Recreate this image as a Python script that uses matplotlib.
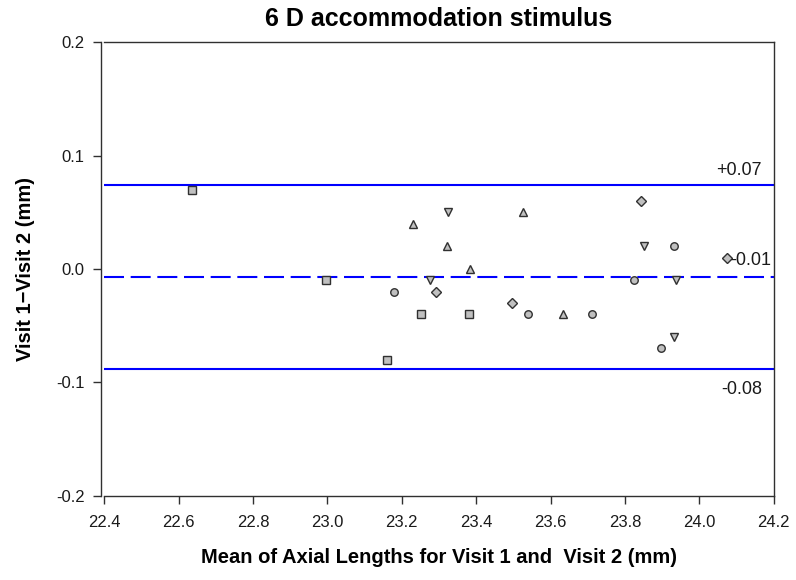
import matplotlib
matplotlib.use("Agg")
import matplotlib.pyplot as plt

# Mean axial length (mm) and Visit 1 - Visit 2 difference (mm), grouped by marker symbol
sq_x = [22.635, 22.995, 23.161, 23.251, 23.380]
sq_y = [0.07, -0.01, -0.08, -0.04, -0.04]

ci_x = [23.179, 23.540, 23.711, 23.825, 23.896, 23.931]
ci_y = [-0.02, -0.04, -0.04, -0.01, -0.07, 0.02]

tu_x = [23.231, 23.322, 23.383, 23.527, 23.633]
tu_y = [0.04, 0.02, 0.00, 0.05, -0.04]

td_x = [23.276, 23.325, 23.852, 23.933, 23.937]
td_y = [-0.01, 0.05, 0.02, -0.06, -0.01]

di_x = [23.292, 23.497, 23.842, 24.075]
di_y = [-0.02, -0.03, 0.06, 0.01]

# Bias and limits of agreement
bias = -0.007
loa_upper = 0.074
loa_lower = -0.088
line_labels = ["+0.07", "-0.01", "-0.08"]

x_ticks = [22.4, 22.6, 22.8, 23.0, 23.2, 23.4, 23.6, 23.8, 24.0, 24.2]
y_ticks = [-0.2, -0.1, 0.0, 0.1, 0.2]

plt.rcParams["font.family"] = ["Liberation Sans", "DejaVu Sans"]

fig = plt.figure(figsize=(7.96, 5.80), dpi=100)
ax = fig.add_axes([104.3 / 796, 1 - 495.5 / 580, (773.7 - 104.3) / 796, (495.5 - 42.3) / 580])

ax.set_xlim(22.4, 24.2)
ax.set_ylim(-0.2, 0.2)

blue = "#0000ff"
ax.axhline(loa_upper, color=blue, lw=1.5, zorder=1)
ax.axhline(loa_lower, color=blue, lw=1.5, zorder=1)
ax.axhline(bias, color=blue, lw=1.5, linestyle=(0, (9.6, 3.2)), zorder=1)

mk = dict(linestyle="none", markerfacecolor="#c0c0c0", markeredgecolor="#303030",
          markeredgewidth=1.0, zorder=3)
ax.plot(sq_x, sq_y, marker="s", markersize=5.4, **mk)
ax.plot(ci_x, ci_y, marker="o", markersize=5.4, **mk)
ax.plot(tu_x, tu_y, marker="^", markersize=6.2, **mk)
ax.plot(td_x, td_y, marker="v", markersize=6.2, **mk)
ax.plot(di_x, di_y, marker="D", markersize=5.2, **mk)

lab_kw = dict(fontsize=13, color="#1a1a1a", ha="right", va="center",
              textcoords="offset points")
ax.annotate(line_labels[0], xy=(24.168, loa_upper), xytext=(0, 10.8), **lab_kw)
ax.annotate(line_labels[1], xy=(24.194, bias), xytext=(0, 11.5), **lab_kw)
ax.annotate(line_labels[2], xy=(24.168, loa_lower), xytext=(0, -14.9), **lab_kw)

ax.set_xticks(x_ticks)
ax.set_xticklabels([f"{v:.1f}" for v in x_ticks])
ax.set_yticks(y_ticks)
ax.set_yticklabels([f"{v:.1f}" for v in y_ticks])

spine_c = "#303030"
for s in ax.spines.values():
    s.set_color(spine_c)
    s.set_linewidth(1.0)
ax.spines["left"].set_position(("outward", 2.5))

ax.tick_params(axis="both", direction="out", length=5.8, width=1.0, color=spine_c,
               labelsize=12, labelcolor="#1a1a1a")
ax.tick_params(axis="y", pad=6)
ax.tick_params(axis="x", pad=8)

ax.set_title("6 D accommodation stimulus", fontsize=18, fontweight="bold", pad=12)
ax.set_xlabel("Mean of Axial Lengths for Visit 1 and  Visit 2 (mm)",
              fontsize=14.5, fontweight="bold", labelpad=13)
ax.set_ylabel("Visit 1\u2212Visit 2 (mm)", fontsize=14.5, fontweight="bold", labelpad=15)

fig.savefig("out.png", dpi=100)
